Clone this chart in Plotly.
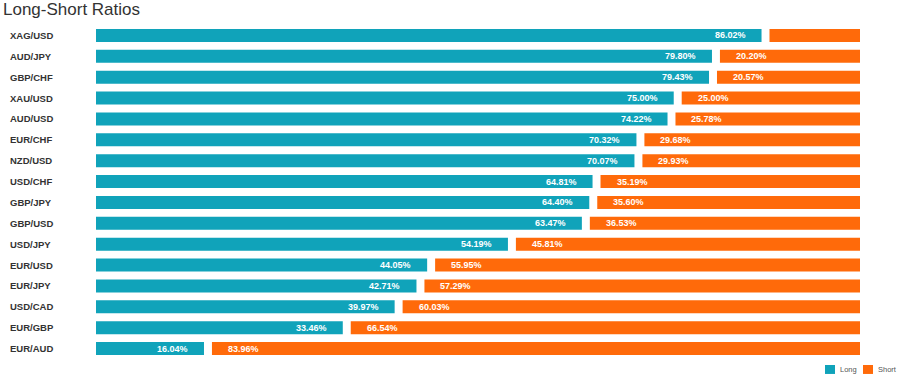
import plotly.graph_objects as go

pairs = ["XAG/USD", "AUD/JPY", "GBP/CHF", "XAU/USD", "AUD/USD", "EUR/CHF", "NZD/USD", "USD/CHF",
         "GBP/JPY", "GBP/USD", "USD/JPY", "EUR/USD", "EUR/JPY", "USD/CAD", "EUR/GBP", "EUR/AUD"]
long_pct = [86.02, 79.80, 79.43, 75.00, 74.22, 70.32, 70.07, 64.81,
            64.40, 63.47, 54.19, 44.05, 42.71, 39.97, 33.46, 16.04]
short_pct = [13.98, 20.20, 20.57, 25.00, 25.78, 29.68, 29.93, 35.19,
             35.60, 36.53, 45.81, 55.95, 57.29, 60.03, 66.54, 83.96]
series_names = ["Long", "Short"]

TEAL = "#10a3ba"
ORANGE = "#ff6a0a"
GAP = 1.0
FONT = "Liberation Sans, Arial, sans-serif"

W, H = 900, 379
ML, MR, MT, MB = 96, 40, 24.5, 19.5
PW = W - ML - MR
PH = H - MT - MB

fig = go.Figure()
fig.add_trace(go.Bar(
    name=series_names[0], y=pairs, x=long_pct, base=[0] * len(pairs), orientation="h",
    marker=dict(color=TEAL, line=dict(width=0)), width=0.62, hoverinfo="skip",
))
fig.add_trace(go.Bar(
    name=series_names[1], y=pairs, x=short_pct, base=[l + GAP for l in long_pct], orientation="h",
    marker=dict(color=ORANGE, line=dict(width=0)), width=0.62, hoverinfo="skip",
))

annotations = []
shapes = []
lab_font = dict(family=FONT, size=9, color="white")
for p, l, s in zip(pairs, long_pct, short_pct):
    annotations.append(dict(x=l, y=p, xref="x", yref="y", text=f"<b>{l:.2f}%</b>",
                            showarrow=False, xanchor="right", yanchor="middle",
                            xshift=-14, font=lab_font))
    if s >= 15:
        annotations.append(dict(x=l + GAP, y=p, xref="x", yref="y", text=f"<b>{s:.2f}%</b>",
                                showarrow=False, xanchor="left", yanchor="middle",
                                xshift=14, font=lab_font))
    annotations.append(dict(x=(8 - ML) / PW, y=p, xref="paper", yref="y", text=f"<b>{p}</b>",
                            showarrow=False, xanchor="left", yanchor="middle",
                            font=dict(family=FONT, size=9.5, color="#333333")))

# custom legend (bottom right)
def px_x(px):
    return (px - ML) / PW

def px_y(py):
    return (H - MB - py) / PH

legend_items = [(series_names[0], TEAL, 825), (series_names[1], ORANGE, 863)]
for name, col, x0 in legend_items:
    shapes.append(dict(type="rect", xref="paper", yref="paper",
                       x0=px_x(x0), x1=px_x(x0 + 10), y0=px_y(374.5), y1=px_y(365.5),
                       fillcolor=col, line=dict(width=0)))
    annotations.append(dict(x=px_x(x0 + 13), y=px_y(370.5), xref="paper", yref="paper",
                            text=name, showarrow=False, xanchor="left", yanchor="middle",
                            font=dict(family=FONT, size=7.5, color="#555555")))

fig.update_layout(
    width=W, height=H,
    margin=dict(l=ML, r=MR, t=MT, b=MB, autoexpand=False),
    paper_bgcolor="white", plot_bgcolor="white",
    barmode="overlay",
    showlegend=False,
    title=dict(text="Long-Short Ratios", x=3 / W, xanchor="left", xref="container",
               y=1 - 9.5 / H, yanchor="middle", yref="container",
               font=dict(family=FONT, size=17, color="#333333")),
    annotations=annotations,
    shapes=shapes,
)
fig.update_xaxes(range=[2.485, 98.38], visible=False, fixedrange=True)
fig.update_yaxes(categoryorder="array", categoryarray=pairs,
                 range=[15.5, -0.5], showticklabels=False, showgrid=False, zeroline=False,
                 fixedrange=True)

fig.write_html("out.html", config={"displayModeBar": False},
               post_script="document.body.style.margin='0';document.body.style.overflow='hidden';")
